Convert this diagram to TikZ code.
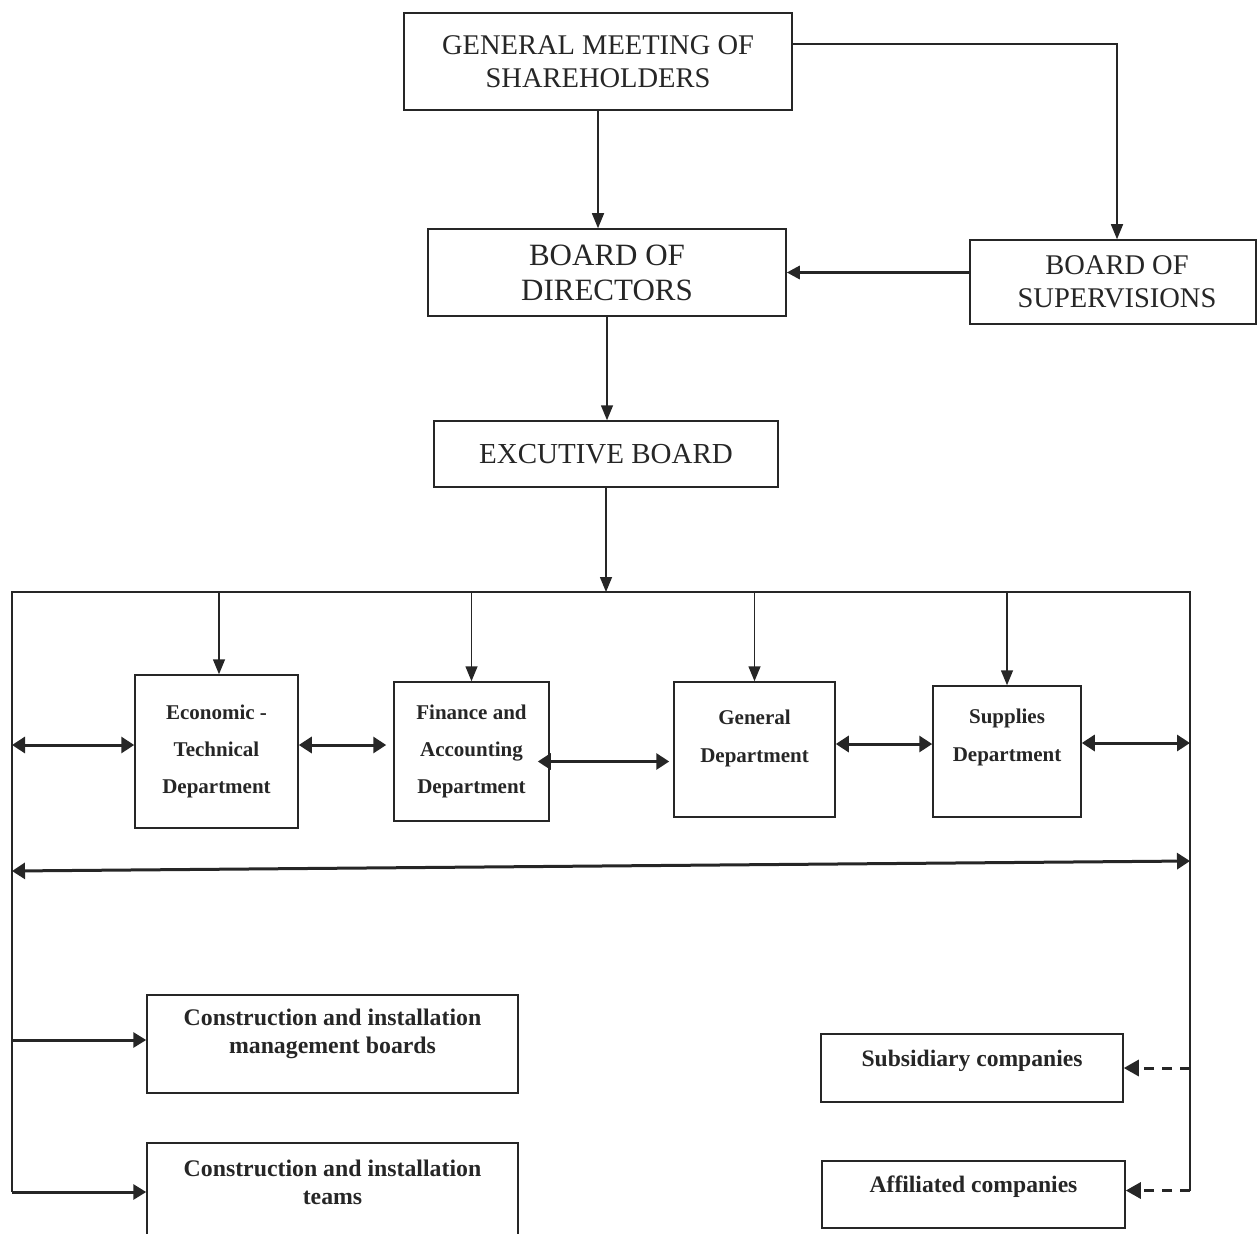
\documentclass[tikz,border=0pt]{standalone}
\usepackage{fontspec}
\setmainfont{Liberation Serif}
\usetikzlibrary{arrows.meta,positioning}
\colorlet{ink}{black!85}
\tikzstyle{board}=[draw=ink,text=ink,line width=1.5pt,align=center,inner sep=0pt,
font=\fontsize{28.5}{33}\selectfont]
\tikzstyle{dept}=[board,font=\bfseries\fontsize{21}{37}\selectfont]
\tikzstyle{unit}=[board,font=\bfseries\fontsize{23.8}{28}\selectfont]
\tikzstyle{txt}=[text=ink,align=center,inner sep=0pt]
\tikzstyle{arr}=[draw=ink,line width=1.5pt,-{Triangle[length=15pt,width=12pt]}]
\tikzstyle{dbl}=[draw=ink,line width=3pt,
{Triangle[length=13pt,width=16pt]}-{Triangle[length=13pt,width=16pt]}]
\tikzstyle{dasharr}=[draw=ink,line width=3pt,dash pattern=on 10pt off 8pt,
-{Triangle[length=15pt,width=16pt]}]
\tikzstyle{bus}=[draw=ink,line width=1.8pt]

\begin{document}
\begin{tikzpicture}[x=1pt, y=-1pt, on grid]
  \useasboundingbox (0,0) rectangle (1257,1233);

  % boards
  \node[board, minimum width=388pt, minimum height=97pt] (gms) at (598,61.5)
    {GENERAL MEETING OF\\SHAREHOLDERS};
  \node[board, minimum width=358pt, minimum height=87pt,
    font=\fontsize{31}{35}\selectfont] (bod) at (607,272.5) {BOARD OF\\DIRECTORS};
  \node[board, minimum width=286pt, minimum height=84pt] (bos) at (1113,282) {};
  \node[txt, font=\fontsize{28.5}{33}\selectfont, right=4pt of bos] (bosT)
    {BOARD OF\\SUPERVISIONS};
  \node[board, minimum width=344pt, minimum height=66pt,
    font=\fontsize{29}{33}\selectfont] (exb) at (606,454) {EXCUTIVE BOARD};

  % departments
  \node[dept, minimum width=163pt, minimum height=153pt] (econ) at (216.5,751.5)
    {Economic -\\Technical\\Department};
  \node[dept, minimum width=155pt, minimum height=139pt, right=255pt of econ] (fin)
    {Finance and\\Accounting\\Department};
  \node[dept, minimum width=161pt, minimum height=135pt] (gen) at (754.5,749.5) {};
  \node[txt, font=\bfseries\fontsize{21}{38}\selectfont, above=11.5pt of gen] (genT)
    {General\\Department};
  \node[dept, minimum width=148pt, minimum height=131pt] (sup) at (1007,751.5) {};
  \node[txt, font=\bfseries\fontsize{21}{38}\selectfont, above=14.5pt of sup] (supT)
    {Supplies\\Department};

  % units below
  \node[unit, minimum width=371pt, minimum height=98pt] (cimb) at (332.5,1044) {};
  \node[txt, font=\bfseries\fontsize{23.8}{28}\selectfont, above=10pt of cimb] (cimbT)
    {Construction and installation\\management boards};
  \node[unit, minimum width=371pt, minimum height=98pt, below=148pt of cimb] (cit) {};
  \node[txt, font=\bfseries\fontsize{23.8}{28}\selectfont, above=10pt of cit] (citT)
    {Construction and installation\\teams};
  \node[unit, minimum width=302pt, minimum height=68pt] (sub) at (972,1068) {};
  \node[txt, font=\bfseries\fontsize{23.6}{28}\selectfont, above=7pt of sub] (subT)
    {Subsidiary companies};
  \node[unit, minimum width=303pt, minimum height=67pt] (aff) at (973.5,1194.5) {};
  \node[txt, font=\bfseries\fontsize{23.6}{28}\selectfont, above=7.5pt of aff] (affT)
    {Affiliated companies};

  % bus lines
  \coordinate (tl) at (12,592);
  \coordinate (tr) at (1190,592);
  \coordinate (bl) at (cit.west -| tl);
  \coordinate (br) at ([yshift=4pt]aff.east -| tr);
  \coordinate (ll) at (12,871);
  \coordinate (lr) at (1190,861);
  \draw[bus] (bl) -- (tl) -- (tr) -- (br);

  \draw[arr] (gms.south) -- (gms.south |- bod.north);
  \draw[arr] ([yshift=17.5pt]gms.east) -| ([xshift=4pt]bos.north);
  \draw[arr, line width=3pt, -{Triangle[length=13pt,width=13pt]}]
    (bos.west |- bod.east) -- (bod.east);
  \draw[arr] (bod.south) -- (bod.south |- exb.north);
  \draw[arr] (exb.south) -- (exb.south |- tl);

  \draw[arr] ([xshift=2.5pt]econ.north |- tl) -- ([xshift=2.5pt]econ.north);
  \draw[arr] (fin.north |- tl) -- (fin.north);
  \draw[arr] (gen.north |- tl) -- (gen.north);
  \draw[arr] (sup.north |- tl) -- (sup.north);

  \draw[dbl] ([yshift=6.5pt]econ.west -| tl) -- ([yshift=6.5pt]econ.west);
  \draw[dbl] ([yshift=6.5pt]econ.east) -- ([yshift=6.5pt,xshift=-7pt]econ.east -| fin.west);
  \draw[dbl] ([yshift=-10pt,xshift=-12pt]fin.east) -- ([yshift=-10pt,xshift=-4pt]fin.east -| gen.west);
  \draw[dbl] ([yshift=5.5pt]gen.east) -- ([yshift=5.5pt]gen.east -| sup.west);
  \draw[dbl] ([yshift=8.5pt]sup.east) -- ([yshift=8.5pt]sup.east -| tr);
  \draw[dbl] (ll) -- (lr);

  \draw[arr, line width=3pt, -{Triangle[length=13pt,width=15pt]}]
    ([yshift=4pt]cimb.west -| tl) -- ([yshift=4pt]cimb.west);
  \draw[arr, line width=3pt, -{Triangle[length=13pt,width=15pt]}] (bl) -- (cit.west);
  \draw[dasharr] (sub.east -| tr) -- (sub.east);
  \draw[dasharr] (br) -- ([yshift=4pt]aff.east);
\end{tikzpicture}
\end{document}
